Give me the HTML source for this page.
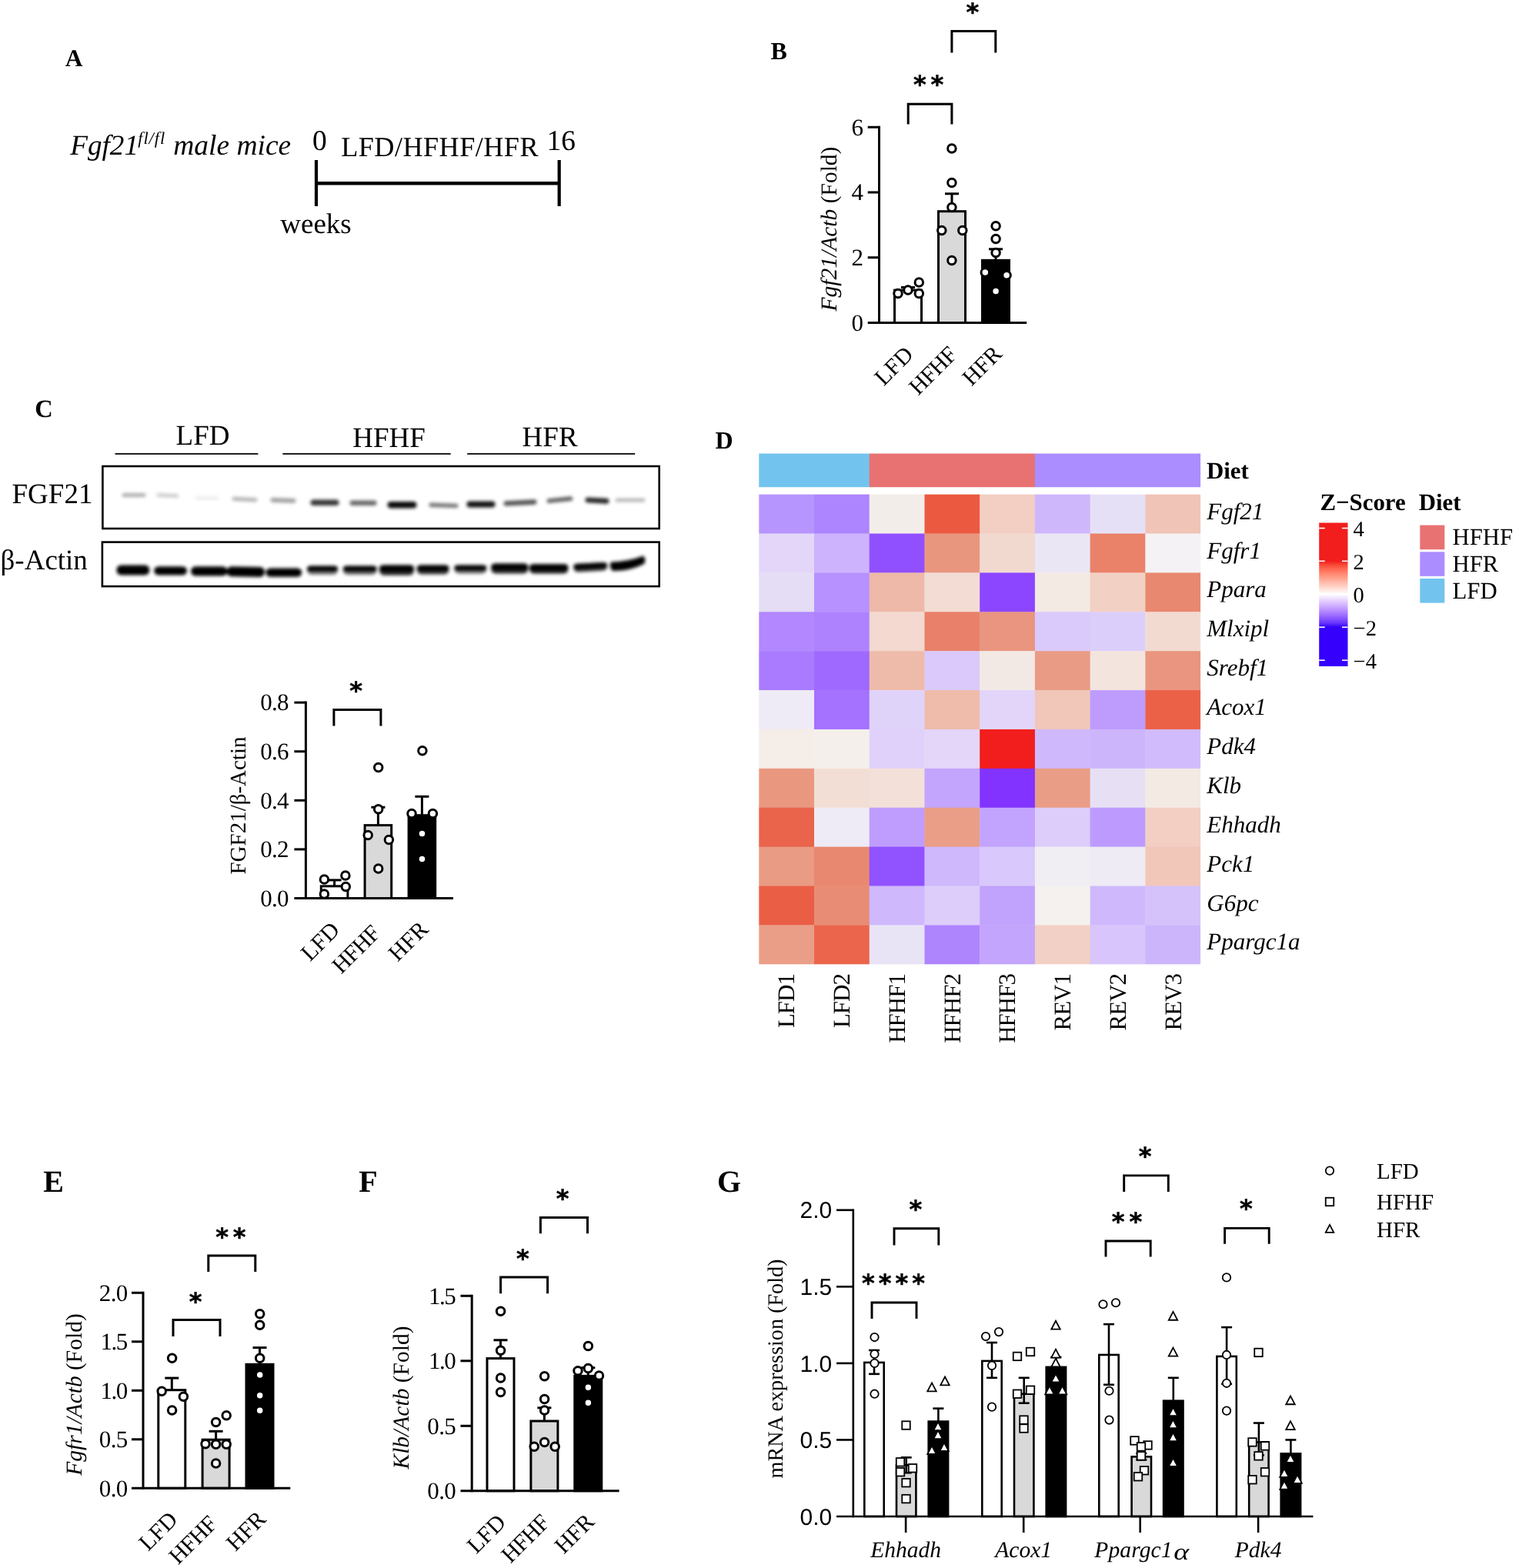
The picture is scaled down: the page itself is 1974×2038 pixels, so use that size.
<!DOCTYPE html>
<html lang="en">
<head>
<meta charset="utf-8">
<title>Figure: FGF21 signalling in LFD, HFHF and HFR fed mice</title>
<style>
html,body{margin:0;padding:0;background:#fff}
body{width:1974px;height:2038px;overflow:hidden}
svg{display:block;font-family:'Liberation Serif','Times New Roman',serif;fill:#000;text-rendering:geometricPrecision}
</style>
</head>
<body>
<svg width="1974" height="2038" viewBox="0 0 1974 2038">
<defs>
<filter id="b2" x="-30%" y="-300%" width="160%" height="700%"><feGaussianBlur stdDeviation="2.3"/></filter>
<filter id="b1" x="-30%" y="-200%" width="160%" height="500%"><feGaussianBlur stdDeviation="2"/></filter>
<linearGradient id="zs" x1="0" y1="0" x2="0" y2="1">
<stop offset="0.2670" stop-color="#f21d1d"/>
<stop offset="0.2958" stop-color="#fa4b38"/>
<stop offset="0.3245" stop-color="#ff6a53"/>
<stop offset="0.3533" stop-color="#ff856e"/>
<stop offset="0.3820" stop-color="#ff9f89"/>
<stop offset="0.4108" stop-color="#ffb7a6"/>
<stop offset="0.4395" stop-color="#ffcfc3"/>
<stop offset="0.4683" stop-color="#ffe7e1"/>
<stop offset="0.4971" stop-color="#ffffff"/>
<stop offset="0.5258" stop-color="#efe2ff"/>
<stop offset="0.5546" stop-color="#dec5ff"/>
<stop offset="0.5833" stop-color="#cba9ff"/>
<stop offset="0.6121" stop-color="#b78dff"/>
<stop offset="0.6408" stop-color="#a070ff"/>
<stop offset="0.6696" stop-color="#8753ff"/>
<stop offset="0.6983" stop-color="#6634fe"/>
<stop offset="0.7271" stop-color="#3500fc"/>
</linearGradient>
</defs>
<rect width="1974" height="2038" fill="#fff"/>
<text x="84.7" y="85.9" font-size="31.5" font-weight="bold">A</text>
<text x="1001.6" y="77.2" font-size="32" font-weight="bold">B</text>
<text x="45.3" y="542.1" font-size="32.5" font-weight="bold">C</text>
<text x="929.4" y="582.9" font-size="32" font-weight="bold">D</text>
<text x="56.3" y="1549.3" font-size="40" font-weight="bold">E</text>
<text x="466.3" y="1549.3" font-size="40" font-weight="bold">F</text>
<text x="932" y="1549.4" font-size="40" font-weight="bold">G</text>
<text x="91.2" y="200.6" font-size="37.2" font-style="italic">Fgf21<tspan x="179.3" font-size="22.5" dy="-13.4" letter-spacing="0.9">fl/fl</tspan><tspan x="215.8" dy="13.4" font-size="37.5"> male mice</tspan></text>
<text x="415.3" y="195.2" font-size="37.5" text-anchor="middle">0</text>
<text x="729.2" y="194.8" font-size="37.5" text-anchor="middle">16</text>
<text x="571.6" y="202.8" font-size="36.2" text-anchor="middle" letter-spacing="0.45">LFD/HFHF/HFR</text>
<text x="410.5" y="303.2" font-size="37" text-anchor="middle">weeks</text>
<line x1="411" y1="208" x2="411" y2="268" stroke="#000" stroke-width="4.2"/>
<line x1="726.7" y1="208" x2="726.7" y2="268" stroke="#000" stroke-width="4.2"/>
<line x1="411" y1="238.2" x2="726.7" y2="238.2" stroke="#000" stroke-width="4.4"/>
<rect x="1162.5" y="377.1" width="35" height="42.4" fill="#fff" stroke="#000" stroke-width="3"/>
<rect x="1219.5" y="274.7" width="35" height="144.8" fill="#d9d9d9" stroke="#000" stroke-width="3"/>
<rect x="1276.5" y="338.3" width="35" height="81.2" fill="#000" stroke="#000" stroke-width="3"/>
<line x1="1180" y1="373.5" x2="1180" y2="377.1" stroke="#000" stroke-width="3"/>
<line x1="1171" y1="373.5" x2="1189" y2="373.5" stroke="#000" stroke-width="3"/>
<line x1="1237" y1="251.8" x2="1237" y2="274.7" stroke="#000" stroke-width="3"/>
<line x1="1228" y1="251.8" x2="1246" y2="251.8" stroke="#000" stroke-width="3"/>
<line x1="1294" y1="323.8" x2="1294" y2="338.3" stroke="#000" stroke-width="3"/>
<line x1="1285" y1="323.8" x2="1303" y2="323.8" stroke="#000" stroke-width="3"/>
<line x1="1142.5" y1="163.8" x2="1142.5" y2="421" stroke="#000" stroke-width="3"/>
<line x1="1127.7" y1="419.5" x2="1334.2" y2="419.5" stroke="#000" stroke-width="3"/>
<line x1="1127.7" y1="165.3" x2="1142.5" y2="165.3" stroke="#000" stroke-width="3"/>
<text x="1121.9" y="175.69" font-size="31" text-anchor="end">6</text>
<line x1="1127.7" y1="250" x2="1142.5" y2="250" stroke="#000" stroke-width="3"/>
<text x="1121.9" y="260.38" font-size="31" text-anchor="end">4</text>
<line x1="1127.7" y1="334.7" x2="1142.5" y2="334.7" stroke="#000" stroke-width="3"/>
<text x="1121.9" y="345.08" font-size="31" text-anchor="end">2</text>
<text x="1121.9" y="429.88" font-size="31" text-anchor="end">0</text>
<circle cx="1167" cy="381.6" r="5.25" fill="#fff" stroke="#000" stroke-width="3"/>
<circle cx="1180" cy="376.9" r="5.25" fill="#fff" stroke="#000" stroke-width="3"/>
<circle cx="1194.3" cy="367.1" r="5.25" fill="#fff" stroke="#000" stroke-width="3"/>
<circle cx="1194.3" cy="381.6" r="5.25" fill="#fff" stroke="#000" stroke-width="3"/>
<circle cx="1236.9" cy="193.1" r="5.25" fill="#fff" stroke="#000" stroke-width="3"/>
<circle cx="1236.9" cy="237.5" r="5.25" fill="#fff" stroke="#000" stroke-width="3"/>
<circle cx="1236.9" cy="269.5" r="5.25" fill="#fff" stroke="#000" stroke-width="3"/>
<circle cx="1223.8" cy="299.5" r="5.25" fill="#fff" stroke="#000" stroke-width="3"/>
<circle cx="1250.8" cy="299.5" r="5.25" fill="#fff" stroke="#000" stroke-width="3"/>
<circle cx="1236.9" cy="338.6" r="5.25" fill="#fff" stroke="#000" stroke-width="3"/>
<circle cx="1294.1" cy="293.8" r="5.25" fill="#fff" stroke="#000" stroke-width="3"/>
<circle cx="1294.1" cy="310.6" r="5.25" fill="#fff" stroke="#000" stroke-width="3"/>
<circle cx="1294.1" cy="328.5" r="5.25" fill="#fff" stroke="#000" stroke-width="3"/>
<circle cx="1280.3" cy="354.1" r="5.25" fill="#fff" stroke="#000" stroke-width="3"/>
<circle cx="1308.1" cy="357.8" r="5.25" fill="#fff" stroke="#000" stroke-width="3"/>
<circle cx="1294.1" cy="378.6" r="5.25" fill="#fff" stroke="#000" stroke-width="3"/>
<text transform="translate(1188.5 462.5) rotate(-45)" font-size="30" text-anchor="end">LFD</text>
<text transform="translate(1244.9 463.1) rotate(-45)" font-size="30" text-anchor="end" letter-spacing="-0.9">HFHF</text>
<text transform="translate(1303.7 461.5) rotate(-45)" font-size="30" text-anchor="end">HFR</text>
<text transform="translate(1086.5 297.5) rotate(-90)" font-size="29.5" text-anchor="middle"><tspan font-style="italic">Fgf21/Actb</tspan> (Fold)</text>
<path d="M1236.9 68.5V40.6H1293.8V68.5" fill="none" stroke="#000" stroke-width="3"/>
<text x="1263.9" y="27.2" font-size="32" text-anchor="middle" font-weight="bold" font-family="'DejaVu Sans','Liberation Sans',sans-serif" stroke="#000" stroke-width="0.5">*</text>
<path d="M1180.2 161.6V135.2H1236.9V161.6" fill="none" stroke="#000" stroke-width="3"/>
<text x="1209.6" y="121.2" font-size="32" text-anchor="middle" font-weight="bold" font-family="'DejaVu Sans','Liberation Sans',sans-serif" letter-spacing="5.8" stroke="#000" stroke-width="0.5">**</text>
<text x="263.5" y="578.2" font-size="37" text-anchor="middle">LFD</text>
<text x="505.6" y="580.6" font-size="37" text-anchor="middle">HFHF</text>
<text x="714.6" y="580.4" font-size="37" text-anchor="middle">HFR</text>
<line x1="149.5" y1="589.9" x2="335.4" y2="589.9" stroke="#000" stroke-width="1.7"/>
<line x1="367.4" y1="589.9" x2="585.7" y2="589.9" stroke="#000" stroke-width="1.7"/>
<line x1="607.2" y1="589.9" x2="825.2" y2="589.9" stroke="#000" stroke-width="1.7"/>
<text x="68" y="654.2" font-size="37" text-anchor="middle">FGF21</text>
<text x="57.2" y="739.8" font-size="37" text-anchor="middle">β-Actin</text>
<rect x="133.4" y="606" width="723.3" height="81" fill="#fff" stroke="#000" stroke-width="2.6"/>
<rect x="132.9" y="704.6" width="723.8" height="57.5" fill="#fff" stroke="#000" stroke-width="2.6"/>
<g filter="url(#b2)">
<rect x="158.5" y="641.1" width="31" height="5" rx="2.5" fill="#000" opacity="0.32" transform="rotate(0 174 643.6)"/>
<rect x="203.5" y="641.8" width="29" height="4.4" rx="2.2" fill="#000" opacity="0.21" transform="rotate(2 218 644)"/>
<rect x="253.5" y="645.4" width="31" height="3.6" rx="1.8" fill="#000" opacity="0.09" transform="rotate(0 269 647.2)"/>
<rect x="301.5" y="646.5" width="33" height="5" rx="2.5" fill="#000" opacity="0.3" transform="rotate(3 318 649)"/>
<rect x="351.5" y="647.6" width="33" height="5.6" rx="2.8" fill="#000" opacity="0.38" transform="rotate(2 368 650.4)"/>
<rect x="403.5" y="649.4" width="37" height="7.6" rx="3.8" fill="#000" opacity="0.8" transform="rotate(0 422 653.2)"/>
<rect x="454.5" y="650.5" width="35" height="6.6" rx="3.3" fill="#000" opacity="0.6" transform="rotate(0 472 653.8)"/>
<rect x="503.5" y="652" width="38" height="8.4" rx="4.2" fill="#000" opacity="0.97" transform="rotate(0 522.5 656.2)"/>
<rect x="557.5" y="654.1" width="38" height="5.4" rx="2.7" fill="#000" opacity="0.55" transform="rotate(2 576.5 656.8)"/>
<rect x="606.5" y="651.4" width="37" height="8" rx="4" fill="#000" opacity="0.93" transform="rotate(0 625 655.4)"/>
<rect x="654.5" y="650.2" width="43" height="6.4" rx="3.2" fill="#000" opacity="0.68" transform="rotate(-3 676 653.4)"/>
<rect x="710.5" y="646.8" width="34" height="5.6" rx="2.8" fill="#000" opacity="0.62" transform="rotate(-6 727.5 649.6)"/>
<rect x="760.5" y="647.2" width="31" height="6.8" rx="3.4" fill="#000" opacity="0.85" transform="rotate(3 776 650.6)"/>
<rect x="799.5" y="647.8" width="39" height="4.4" rx="2.2" fill="#000" opacity="0.3" transform="rotate(0 819 650)"/>
</g>
<g filter="url(#b1)">
<rect x="151.5" y="734.4" width="42.8" height="13.2" rx="6" fill="#000" transform="rotate(0 172.9 741)"/>
<rect x="200.2" y="736.2" width="42.8" height="11.4" rx="6" fill="#000" transform="rotate(0 221.6 741.9)"/>
<rect x="248" y="736.2" width="47.5" height="12.3" rx="6" fill="#000" transform="rotate(0 271.75 742.35)"/>
<rect x="294.7" y="736.6" width="49.3" height="13" rx="6" fill="#000" transform="rotate(1 319.35 743.1)"/>
<rect x="345.4" y="738.4" width="46.8" height="11.4" rx="6" fill="#000" transform="rotate(0 368.8 744.1)"/>
<rect x="399" y="735.4" width="40" height="11.6" rx="6" fill="#000" opacity="0.55" transform="rotate(0 419 741.2)"/>
<rect x="399" y="735.4" width="40" height="7.19" rx="4.5" fill="#000" transform="rotate(0 419 741.2)"/>
<rect x="445.8" y="735.4" width="43.8" height="11.6" rx="6" fill="#000" opacity="0.6" transform="rotate(0 467.7 741.2)"/>
<rect x="445.8" y="735.4" width="43.8" height="7.19" rx="4.5" fill="#000" transform="rotate(0 467.7 741.2)"/>
<rect x="493" y="734.4" width="45" height="13.4" rx="6" fill="#000" opacity="0.85" transform="rotate(0 515.5 741.1)"/>
<rect x="493" y="734.4" width="45" height="8.31" rx="4.5" fill="#000" transform="rotate(0 515.5 741.1)"/>
<rect x="541.7" y="734.4" width="41.8" height="12.2" rx="6" fill="#000" opacity="0.8" transform="rotate(0 562.6 740.5)"/>
<rect x="541.7" y="734.4" width="41.8" height="7.56" rx="4.5" fill="#000" transform="rotate(0 562.6 740.5)"/>
<rect x="590.4" y="734.4" width="41.9" height="11" rx="6" fill="#000" opacity="0.6" transform="rotate(0 611.35 739.9)"/>
<rect x="590.4" y="734.4" width="41.9" height="6.82" rx="4.5" fill="#000" transform="rotate(0 611.35 739.9)"/>
<rect x="638.2" y="732.6" width="48.2" height="13" rx="6" fill="#000" opacity="0.85" transform="rotate(0 662.3 739.1)"/>
<rect x="638.2" y="732.6" width="48.2" height="8.06" rx="4.5" fill="#000" transform="rotate(0 662.3 739.1)"/>
<rect x="687.9" y="733.3" width="50.6" height="12.3" rx="6" fill="#000" opacity="0.9" transform="rotate(0 713.2 739.45)"/>
<rect x="687.9" y="733.3" width="50.6" height="7.63" rx="4.5" fill="#000" transform="rotate(0 713.2 739.45)"/>
<rect x="745.4" y="731.8" width="43.8" height="10.9" rx="6" fill="#000" opacity="0.8" transform="rotate(-3 767.3 737.25)"/>
<rect x="745.4" y="731.8" width="43.8" height="6.76" rx="4.5" fill="#000" transform="rotate(-3 767.3 737.25)"/>
<path d="M794 730.5 Q816 730 836 722.5 Q840.5 727 837 733 Q818 742.5 796 742 Q790.5 736 794 730.5Z" fill="#000"/>
</g>
<rect x="417.3" y="1151.8" width="34.6" height="15.7" fill="#fff" stroke="#000" stroke-width="3"/>
<rect x="474.1" y="1072.6" width="34.6" height="94.9" fill="#d9d9d9" stroke="#000" stroke-width="3"/>
<rect x="531.1" y="1059.7" width="34.6" height="107.8" fill="#000" stroke="#000" stroke-width="3"/>
<line x1="434.6" y1="1143.9" x2="434.6" y2="1151.8" stroke="#000" stroke-width="3"/>
<line x1="425.6" y1="1143.9" x2="443.6" y2="1143.9" stroke="#000" stroke-width="3"/>
<line x1="491.4" y1="1049.2" x2="491.4" y2="1072.6" stroke="#000" stroke-width="3"/>
<line x1="482.4" y1="1049.2" x2="500.4" y2="1049.2" stroke="#000" stroke-width="3"/>
<line x1="548.4" y1="1035.3" x2="548.4" y2="1059.7" stroke="#000" stroke-width="3"/>
<line x1="539.4" y1="1035.3" x2="557.4" y2="1035.3" stroke="#000" stroke-width="3"/>
<line x1="397.4" y1="911.6" x2="397.4" y2="1169" stroke="#000" stroke-width="3"/>
<line x1="382.4" y1="1167.5" x2="589" y2="1167.5" stroke="#000" stroke-width="3"/>
<line x1="382.4" y1="913.1" x2="397.4" y2="913.1" stroke="#000" stroke-width="3"/>
<text x="374.8" y="923.49" font-size="31" text-anchor="end" letter-spacing="-0.7">0.8</text>
<line x1="382.4" y1="976.7" x2="397.4" y2="976.7" stroke="#000" stroke-width="3"/>
<text x="374.8" y="987.09" font-size="31" text-anchor="end" letter-spacing="-0.7">0.6</text>
<line x1="382.4" y1="1040.3" x2="397.4" y2="1040.3" stroke="#000" stroke-width="3"/>
<text x="374.8" y="1050.68" font-size="31" text-anchor="end" letter-spacing="-0.7">0.4</text>
<line x1="382.4" y1="1103.9" x2="397.4" y2="1103.9" stroke="#000" stroke-width="3"/>
<text x="374.8" y="1114.29" font-size="31" text-anchor="end" letter-spacing="-0.7">0.2</text>
<text x="374.8" y="1177.88" font-size="31" text-anchor="end" letter-spacing="-0.7">0.0</text>
<circle cx="421.4" cy="1142.9" r="5.25" fill="#fff" stroke="#000" stroke-width="3"/>
<circle cx="448.9" cy="1138.1" r="5.25" fill="#fff" stroke="#000" stroke-width="3"/>
<circle cx="449.3" cy="1152.5" r="5.25" fill="#fff" stroke="#000" stroke-width="3"/>
<circle cx="421.4" cy="1162.1" r="5.25" fill="#fff" stroke="#000" stroke-width="3"/>
<circle cx="491.7" cy="997.6" r="5.25" fill="#fff" stroke="#000" stroke-width="3"/>
<circle cx="491.7" cy="1051.8" r="5.25" fill="#fff" stroke="#000" stroke-width="3"/>
<circle cx="478.2" cy="1085.4" r="5.25" fill="#fff" stroke="#000" stroke-width="3"/>
<circle cx="505.4" cy="1091.4" r="5.25" fill="#fff" stroke="#000" stroke-width="3"/>
<circle cx="491.7" cy="1128.9" r="5.25" fill="#fff" stroke="#000" stroke-width="3"/>
<circle cx="548.9" cy="975.7" r="5.25" fill="#fff" stroke="#000" stroke-width="3"/>
<circle cx="535" cy="1057.6" r="5.25" fill="#fff" stroke="#000" stroke-width="3"/>
<circle cx="562.4" cy="1057.6" r="5.25" fill="#fff" stroke="#000" stroke-width="3"/>
<circle cx="548.5" cy="1083.5" r="5.25" fill="#fff" stroke="#000" stroke-width="3"/>
<circle cx="548.5" cy="1116.5" r="5.25" fill="#fff" stroke="#000" stroke-width="3"/>
<text transform="translate(443.1 1210.5) rotate(-45)" font-size="30" text-anchor="end">LFD</text>
<text transform="translate(495.3 1215.1) rotate(-45)" font-size="30" text-anchor="end" letter-spacing="-0.9">HFHF</text>
<text transform="translate(558.1 1209.5) rotate(-45)" font-size="30" text-anchor="end">HFR</text>
<text transform="translate(319 1047) rotate(-90)" font-size="29" text-anchor="middle">FGF21/β-Actin</text>
<path d="M433.9 943.6V922.6H494.9V943.6" fill="none" stroke="#000" stroke-width="3"/>
<text x="462.7" y="908.9" font-size="32" text-anchor="middle" font-weight="bold" font-family="'DejaVu Sans','Liberation Sans',sans-serif" stroke="#000" stroke-width="0.5">*</text>
<rect x="205.8" y="1806.7" width="35" height="127.6" fill="#fff" stroke="#000" stroke-width="3"/>
<rect x="263.1" y="1871.2" width="35" height="63.1" fill="#d9d9d9" stroke="#000" stroke-width="3"/>
<rect x="320" y="1773.3" width="35" height="161" fill="#000" stroke="#000" stroke-width="3"/>
<line x1="223.3" y1="1791.1" x2="223.3" y2="1806.7" stroke="#000" stroke-width="3"/>
<line x1="214.3" y1="1791.1" x2="232.3" y2="1791.1" stroke="#000" stroke-width="3"/>
<line x1="280.6" y1="1860.3" x2="280.6" y2="1871.2" stroke="#000" stroke-width="3"/>
<line x1="271.6" y1="1860.3" x2="289.6" y2="1860.3" stroke="#000" stroke-width="3"/>
<line x1="337.5" y1="1751.6" x2="337.5" y2="1773.3" stroke="#000" stroke-width="3"/>
<line x1="328.5" y1="1751.6" x2="346.5" y2="1751.6" stroke="#000" stroke-width="3"/>
<line x1="186" y1="1678.8" x2="186" y2="1935.8" stroke="#000" stroke-width="3"/>
<line x1="171" y1="1934.3" x2="377.3" y2="1934.3" stroke="#000" stroke-width="3"/>
<line x1="171" y1="1680.3" x2="186" y2="1680.3" stroke="#000" stroke-width="3"/>
<text x="165.5" y="1690.68" font-size="31" text-anchor="end" letter-spacing="-0.7">2.0</text>
<line x1="171" y1="1743.8" x2="186" y2="1743.8" stroke="#000" stroke-width="3"/>
<text x="164.7" y="1754.18" font-size="31" text-anchor="end" letter-spacing="-1.5">1.5</text>
<line x1="171" y1="1807.3" x2="186" y2="1807.3" stroke="#000" stroke-width="3"/>
<text x="164.7" y="1817.68" font-size="31" text-anchor="end" letter-spacing="-1.5">1.0</text>
<line x1="171" y1="1870.8" x2="186" y2="1870.8" stroke="#000" stroke-width="3"/>
<text x="165.5" y="1881.18" font-size="31" text-anchor="end" letter-spacing="-0.7">0.5</text>
<text x="165.5" y="1944.68" font-size="31" text-anchor="end" letter-spacing="-0.7">0.0</text>
<circle cx="223.6" cy="1765.3" r="5.25" fill="#fff" stroke="#000" stroke-width="3"/>
<circle cx="210.2" cy="1808.2" r="5.25" fill="#fff" stroke="#000" stroke-width="3"/>
<circle cx="238.4" cy="1815.3" r="5.25" fill="#fff" stroke="#000" stroke-width="3"/>
<circle cx="223.6" cy="1832.9" r="5.25" fill="#fff" stroke="#000" stroke-width="3"/>
<circle cx="294.2" cy="1839.7" r="5.25" fill="#fff" stroke="#000" stroke-width="3"/>
<circle cx="280.6" cy="1848.6" r="5.25" fill="#fff" stroke="#000" stroke-width="3"/>
<circle cx="267" cy="1876.8" r="5.25" fill="#fff" stroke="#000" stroke-width="3"/>
<circle cx="280.6" cy="1877.2" r="5.25" fill="#fff" stroke="#000" stroke-width="3"/>
<circle cx="294.2" cy="1877.2" r="5.25" fill="#fff" stroke="#000" stroke-width="3"/>
<circle cx="280.6" cy="1901.9" r="5.25" fill="#fff" stroke="#000" stroke-width="3"/>
<circle cx="337.7" cy="1707.7" r="5.25" fill="#fff" stroke="#000" stroke-width="3"/>
<circle cx="337.7" cy="1722.3" r="5.25" fill="#fff" stroke="#000" stroke-width="3"/>
<circle cx="337.7" cy="1765.3" r="5.25" fill="#fff" stroke="#000" stroke-width="3"/>
<circle cx="337.7" cy="1786.9" r="5.25" fill="#fff" stroke="#000" stroke-width="3"/>
<circle cx="337.7" cy="1813.8" r="5.25" fill="#fff" stroke="#000" stroke-width="3"/>
<circle cx="337.7" cy="1833.3" r="5.25" fill="#fff" stroke="#000" stroke-width="3"/>
<text transform="translate(232.6 1977) rotate(-45)" font-size="30" text-anchor="end">LFD</text>
<text transform="translate(283.3 1982.8) rotate(-45)" font-size="30" text-anchor="end" letter-spacing="-0.9">HFHF</text>
<text transform="translate(347.2 1976) rotate(-45)" font-size="30" text-anchor="end">HFR</text>
<text transform="translate(105.5 1812.5) rotate(-90)" font-size="29.5" text-anchor="middle"><tspan font-style="italic">Fgfr1/Actb</tspan> (Fold)</text>
<path d="M225 1737.1V1715.5H286V1737.1" fill="none" stroke="#000" stroke-width="3"/>
<text x="254.1" y="1703.2" font-size="32" text-anchor="middle" font-weight="bold" font-family="'DejaVu Sans','Liberation Sans',sans-serif" stroke="#000" stroke-width="0.5">*</text>
<path d="M270.8 1653.1V1631.9H331.8V1653.1" fill="none" stroke="#000" stroke-width="3"/>
<text x="302.8" y="1619.2" font-size="32" text-anchor="middle" font-weight="bold" font-family="'DejaVu Sans','Liberation Sans',sans-serif" letter-spacing="5.8" stroke="#000" stroke-width="0.5">**</text>
<rect x="633" y="1765.6" width="35" height="172.2" fill="#fff" stroke="#000" stroke-width="3"/>
<rect x="689.9" y="1847" width="35" height="90.8" fill="#d9d9d9" stroke="#000" stroke-width="3"/>
<rect x="746.8" y="1788.4" width="35" height="149.4" fill="#000" stroke="#000" stroke-width="3"/>
<line x1="650.5" y1="1741.8" x2="650.5" y2="1765.6" stroke="#000" stroke-width="3"/>
<line x1="641.5" y1="1741.8" x2="659.5" y2="1741.8" stroke="#000" stroke-width="3"/>
<line x1="707.4" y1="1829.8" x2="707.4" y2="1847" stroke="#000" stroke-width="3"/>
<line x1="698.4" y1="1829.8" x2="716.4" y2="1829.8" stroke="#000" stroke-width="3"/>
<line x1="764.3" y1="1777.7" x2="764.3" y2="1788.4" stroke="#000" stroke-width="3"/>
<line x1="755.3" y1="1777.7" x2="773.3" y2="1777.7" stroke="#000" stroke-width="3"/>
<line x1="613.2" y1="1682.8" x2="613.2" y2="1939.3" stroke="#000" stroke-width="3"/>
<line x1="598.5" y1="1937.8" x2="804.6" y2="1937.8" stroke="#000" stroke-width="3"/>
<line x1="598.5" y1="1684.3" x2="613.2" y2="1684.3" stroke="#000" stroke-width="3"/>
<text x="591.2" y="1694.68" font-size="31" text-anchor="end" letter-spacing="-1.5">1.5</text>
<line x1="598.5" y1="1768.8" x2="613.2" y2="1768.8" stroke="#000" stroke-width="3"/>
<text x="591.2" y="1779.18" font-size="31" text-anchor="end" letter-spacing="-1.5">1.0</text>
<line x1="598.5" y1="1853.3" x2="613.2" y2="1853.3" stroke="#000" stroke-width="3"/>
<text x="592" y="1863.68" font-size="31" text-anchor="end" letter-spacing="-0.7">0.5</text>
<text x="592" y="1948.18" font-size="31" text-anchor="end" letter-spacing="-0.7">0.0</text>
<circle cx="650.6" cy="1704.2" r="5.25" fill="#fff" stroke="#000" stroke-width="3"/>
<circle cx="650.6" cy="1755.2" r="5.25" fill="#fff" stroke="#000" stroke-width="3"/>
<circle cx="650.6" cy="1791.1" r="5.25" fill="#fff" stroke="#000" stroke-width="3"/>
<circle cx="650.6" cy="1809.4" r="5.25" fill="#fff" stroke="#000" stroke-width="3"/>
<circle cx="707.6" cy="1788.7" r="5.25" fill="#fff" stroke="#000" stroke-width="3"/>
<circle cx="707.6" cy="1818.5" r="5.25" fill="#fff" stroke="#000" stroke-width="3"/>
<circle cx="707.6" cy="1832.9" r="5.25" fill="#fff" stroke="#000" stroke-width="3"/>
<circle cx="694.2" cy="1880.3" r="5.25" fill="#fff" stroke="#000" stroke-width="3"/>
<circle cx="707.6" cy="1874.4" r="5.25" fill="#fff" stroke="#000" stroke-width="3"/>
<circle cx="721.2" cy="1880.3" r="5.25" fill="#fff" stroke="#000" stroke-width="3"/>
<circle cx="764.4" cy="1749.5" r="5.25" fill="#fff" stroke="#000" stroke-width="3"/>
<circle cx="764.4" cy="1778.6" r="5.25" fill="#fff" stroke="#000" stroke-width="3"/>
<circle cx="751" cy="1781.7" r="5.25" fill="#fff" stroke="#000" stroke-width="3"/>
<circle cx="778.5" cy="1788" r="5.25" fill="#fff" stroke="#000" stroke-width="3"/>
<circle cx="764.4" cy="1803.3" r="5.25" fill="#fff" stroke="#000" stroke-width="3"/>
<circle cx="764.4" cy="1823.2" r="5.25" fill="#fff" stroke="#000" stroke-width="3"/>
<text transform="translate(659 1980.5) rotate(-45)" font-size="30" text-anchor="end">LFD</text>
<text transform="translate(715.3 1981.1) rotate(-45)" font-size="30" text-anchor="end" letter-spacing="-0.9">HFHF</text>
<text transform="translate(774 1979.5) rotate(-45)" font-size="30" text-anchor="end">HFR</text>
<text transform="translate(531 1816.5) rotate(-90)" font-size="29.5" text-anchor="middle"><tspan font-style="italic">Klb/Actb</tspan> (Fold)</text>
<path d="M650.6 1681.2V1660.1H711.6V1681.2" fill="none" stroke="#000" stroke-width="3"/>
<text x="679.4" y="1646.9" font-size="32" text-anchor="middle" font-weight="bold" font-family="'DejaVu Sans','Liberation Sans',sans-serif" stroke="#000" stroke-width="0.5">*</text>
<path d="M702.4 1603.3V1582.6H763.5V1603.3" fill="none" stroke="#000" stroke-width="3"/>
<text x="731.1" y="1569.4" font-size="32" text-anchor="middle" font-weight="bold" font-family="'DejaVu Sans','Liberation Sans',sans-serif" stroke="#000" stroke-width="0.5">*</text>
<g>
<rect x="986.3" y="589.5" width="143.75" height="43.7" fill="#72c4ee"/>
<rect x="1129.75" y="589.5" width="215.47" height="43.7" fill="#e87272"/>
<rect x="1344.92" y="589.5" width="215.17" height="43.7" fill="#ab8dff"/>
<rect x="986.3" y="642.6" width="72.12" height="51.29" fill="#b795ff"/>
<rect x="1058.02" y="642.6" width="72.12" height="51.29" fill="#ad85ff"/>
<rect x="1129.75" y="642.6" width="72.12" height="51.29" fill="#f3edea"/>
<rect x="1201.47" y="642.6" width="72.12" height="51.29" fill="#eb5940"/>
<rect x="1273.2" y="642.6" width="72.12" height="51.29" fill="#f2cec3"/>
<rect x="1344.92" y="642.6" width="72.12" height="51.29" fill="#cfb7fc"/>
<rect x="1416.65" y="642.6" width="72.12" height="51.29" fill="#e6e0f6"/>
<rect x="1488.38" y="642.6" width="71.72" height="51.29" fill="#f0c4b6"/>
<rect x="986.3" y="693.49" width="72.12" height="51.29" fill="#e3d6f9"/>
<rect x="1058.02" y="693.49" width="72.12" height="51.29" fill="#cdb2fe"/>
<rect x="1129.75" y="693.49" width="72.12" height="51.29" fill="#9050ff"/>
<rect x="1201.47" y="693.49" width="72.12" height="51.29" fill="#e9967f"/>
<rect x="1273.2" y="693.49" width="72.12" height="51.29" fill="#f2d9d0"/>
<rect x="1344.92" y="693.49" width="72.12" height="51.29" fill="#ebe6f4"/>
<rect x="1416.65" y="693.49" width="72.12" height="51.29" fill="#e98268"/>
<rect x="1488.38" y="693.49" width="71.72" height="51.29" fill="#f4f2f4"/>
<rect x="986.3" y="744.38" width="72.12" height="51.29" fill="#e5ddf5"/>
<rect x="1058.02" y="744.38" width="72.12" height="51.29" fill="#b791ff"/>
<rect x="1129.75" y="744.38" width="72.12" height="51.29" fill="#eeb9a8"/>
<rect x="1201.47" y="744.38" width="72.12" height="51.29" fill="#f3dcd3"/>
<rect x="1273.2" y="744.38" width="72.12" height="51.29" fill="#8c46ff"/>
<rect x="1344.92" y="744.38" width="72.12" height="51.29" fill="#f4eae4"/>
<rect x="1416.65" y="744.38" width="72.12" height="51.29" fill="#f2d0c4"/>
<rect x="1488.38" y="744.38" width="71.72" height="51.29" fill="#e98870"/>
<rect x="986.3" y="795.27" width="72.12" height="51.29" fill="#b287ff"/>
<rect x="1058.02" y="795.27" width="72.12" height="51.29" fill="#ae82ff"/>
<rect x="1129.75" y="795.27" width="72.12" height="51.29" fill="#f3d9d0"/>
<rect x="1201.47" y="795.27" width="72.12" height="51.29" fill="#e9806a"/>
<rect x="1273.2" y="795.27" width="72.12" height="51.29" fill="#e9957f"/>
<rect x="1344.92" y="795.27" width="72.12" height="51.29" fill="#dac9fb"/>
<rect x="1416.65" y="795.27" width="72.12" height="51.29" fill="#dccefa"/>
<rect x="1488.38" y="795.27" width="71.72" height="51.29" fill="#f3dad1"/>
<rect x="986.3" y="846.17" width="72.12" height="51.29" fill="#aa7bff"/>
<rect x="1058.02" y="846.17" width="72.12" height="51.29" fill="#9f69ff"/>
<rect x="1129.75" y="846.17" width="72.12" height="51.29" fill="#eebbaa"/>
<rect x="1201.47" y="846.17" width="72.12" height="51.29" fill="#dac9fa"/>
<rect x="1273.2" y="846.17" width="72.12" height="51.29" fill="#f3e9e4"/>
<rect x="1344.92" y="846.17" width="72.12" height="51.29" fill="#ea9b85"/>
<rect x="1416.65" y="846.17" width="72.12" height="51.29" fill="#f3e4de"/>
<rect x="1488.38" y="846.17" width="71.72" height="51.29" fill="#e9957f"/>
<rect x="986.3" y="897.06" width="72.12" height="51.29" fill="#efebf6"/>
<rect x="1058.02" y="897.06" width="72.12" height="51.29" fill="#a571ff"/>
<rect x="1129.75" y="897.06" width="72.12" height="51.29" fill="#e0d3fa"/>
<rect x="1201.47" y="897.06" width="72.12" height="51.29" fill="#efbbab"/>
<rect x="1273.2" y="897.06" width="72.12" height="51.29" fill="#e2d5f9"/>
<rect x="1344.92" y="897.06" width="72.12" height="51.29" fill="#f1c7ba"/>
<rect x="1416.65" y="897.06" width="72.12" height="51.29" fill="#bd9cfe"/>
<rect x="1488.38" y="897.06" width="71.72" height="51.29" fill="#eb6148"/>
<rect x="986.3" y="947.95" width="72.12" height="51.29" fill="#f4ede8"/>
<rect x="1058.02" y="947.95" width="72.12" height="51.29" fill="#f4efea"/>
<rect x="1129.75" y="947.95" width="72.12" height="51.29" fill="#dfd1fa"/>
<rect x="1201.47" y="947.95" width="72.12" height="51.29" fill="#e3d6f9"/>
<rect x="1273.2" y="947.95" width="72.12" height="51.29" fill="#f21d1d"/>
<rect x="1344.92" y="947.95" width="72.12" height="51.29" fill="#cfb9fc"/>
<rect x="1416.65" y="947.95" width="72.12" height="51.29" fill="#cdb5fc"/>
<rect x="1488.38" y="947.95" width="71.72" height="51.29" fill="#d1bbfc"/>
<rect x="986.3" y="998.84" width="72.12" height="51.29" fill="#ea9780"/>
<rect x="1058.02" y="998.84" width="72.12" height="51.29" fill="#f3ded6"/>
<rect x="1129.75" y="998.84" width="72.12" height="51.29" fill="#f3e0d8"/>
<rect x="1201.47" y="998.84" width="72.12" height="51.29" fill="#c3a5fd"/>
<rect x="1273.2" y="998.84" width="72.12" height="51.29" fill="#8233ff"/>
<rect x="1344.92" y="998.84" width="72.12" height="51.29" fill="#ea9d86"/>
<rect x="1416.65" y="998.84" width="72.12" height="51.29" fill="#e7e0f5"/>
<rect x="1488.38" y="998.84" width="71.72" height="51.29" fill="#f3eae4"/>
<rect x="986.3" y="1049.73" width="72.12" height="51.29" fill="#ea634b"/>
<rect x="1058.02" y="1049.73" width="72.12" height="51.29" fill="#eeebf6"/>
<rect x="1129.75" y="1049.73" width="72.12" height="51.29" fill="#be9dfe"/>
<rect x="1201.47" y="1049.73" width="72.12" height="51.29" fill="#ea9e87"/>
<rect x="1273.2" y="1049.73" width="72.12" height="51.29" fill="#c2a3fd"/>
<rect x="1344.92" y="1049.73" width="72.12" height="51.29" fill="#dccdfa"/>
<rect x="1416.65" y="1049.73" width="72.12" height="51.29" fill="#bd9bfe"/>
<rect x="1488.38" y="1049.73" width="71.72" height="51.29" fill="#f3cec3"/>
<rect x="986.3" y="1100.62" width="72.12" height="51.29" fill="#ea9b84"/>
<rect x="1058.02" y="1100.62" width="72.12" height="51.29" fill="#e98870"/>
<rect x="1129.75" y="1100.62" width="72.12" height="51.29" fill="#9152ff"/>
<rect x="1201.47" y="1100.62" width="72.12" height="51.29" fill="#cfb8fc"/>
<rect x="1273.2" y="1100.62" width="72.12" height="51.29" fill="#d9c8fb"/>
<rect x="1344.92" y="1100.62" width="72.12" height="51.29" fill="#f1eef3"/>
<rect x="1416.65" y="1100.62" width="72.12" height="51.29" fill="#efebf5"/>
<rect x="1488.38" y="1100.62" width="71.72" height="51.29" fill="#f1c7b9"/>
<rect x="986.3" y="1151.52" width="72.12" height="51.29" fill="#eb5e46"/>
<rect x="1058.02" y="1151.52" width="72.12" height="51.29" fill="#e98c75"/>
<rect x="1129.75" y="1151.52" width="72.12" height="51.29" fill="#cfb8fc"/>
<rect x="1201.47" y="1151.52" width="72.12" height="51.29" fill="#dccdfa"/>
<rect x="1273.2" y="1151.52" width="72.12" height="51.29" fill="#c1a2fd"/>
<rect x="1344.92" y="1151.52" width="72.12" height="51.29" fill="#f4f1ee"/>
<rect x="1416.65" y="1151.52" width="72.12" height="51.29" fill="#cfb9fc"/>
<rect x="1488.38" y="1151.52" width="71.72" height="51.29" fill="#d5c2fb"/>
<rect x="986.3" y="1202.41" width="72.12" height="50.89" fill="#ea9d87"/>
<rect x="1058.02" y="1202.41" width="72.12" height="50.89" fill="#eb654d"/>
<rect x="1129.75" y="1202.41" width="72.12" height="50.89" fill="#e9e4f5"/>
<rect x="1201.47" y="1202.41" width="72.12" height="50.89" fill="#af85fe"/>
<rect x="1273.2" y="1202.41" width="72.12" height="50.89" fill="#c3a5fd"/>
<rect x="1344.92" y="1202.41" width="72.12" height="50.89" fill="#f3d0c5"/>
<rect x="1416.65" y="1202.41" width="72.12" height="50.89" fill="#d7c5fb"/>
<rect x="1488.38" y="1202.41" width="71.72" height="50.89" fill="#cdb5fc"/>
</g>
<text x="1567.9" y="621.8" font-size="30.9" font-weight="bold">Diet</text>
<text x="1568.3" y="674.65" font-size="31" font-style="italic">Fgf21</text>
<text x="1568.3" y="725.54" font-size="31" font-style="italic">Fgfr1</text>
<text x="1568.3" y="776.43" font-size="31" font-style="italic">Ppara</text>
<text x="1568.3" y="827.32" font-size="31" font-style="italic">Mlxipl</text>
<text x="1568.3" y="878.21" font-size="31" font-style="italic">Srebf1</text>
<text x="1568.3" y="929.1" font-size="31" font-style="italic">Acox1</text>
<text x="1568.3" y="980" font-size="31" font-style="italic">Pdk4</text>
<text x="1568.3" y="1030.89" font-size="31" font-style="italic">Klb</text>
<text x="1568.3" y="1081.78" font-size="31" font-style="italic">Ehhadh</text>
<text x="1568.3" y="1132.67" font-size="31" font-style="italic">Pck1</text>
<text x="1568.3" y="1183.56" font-size="31" font-style="italic">G6pc</text>
<text x="1568.3" y="1234.45" font-size="31" font-style="italic">Ppargc1a</text>
<text transform="translate(1032.46 1266) rotate(-90)" font-size="31" text-anchor="end" letter-spacing="-1">LFD1</text>
<text transform="translate(1104.19 1266) rotate(-90)" font-size="31" text-anchor="end" letter-spacing="-1">LFD2</text>
<text transform="translate(1175.91 1266) rotate(-90)" font-size="31" text-anchor="end" letter-spacing="-1">HFHF1</text>
<text transform="translate(1247.64 1266) rotate(-90)" font-size="31" text-anchor="end" letter-spacing="-1">HFHF2</text>
<text transform="translate(1319.36 1266) rotate(-90)" font-size="31" text-anchor="end" letter-spacing="-1">HFHF3</text>
<text transform="translate(1391.09 1266) rotate(-90)" font-size="31" text-anchor="end" letter-spacing="-1">REV1</text>
<text transform="translate(1462.81 1266) rotate(-90)" font-size="31" text-anchor="end" letter-spacing="-1">REV2</text>
<text transform="translate(1534.54 1266) rotate(-90)" font-size="31" text-anchor="end" letter-spacing="-1">REV3</text>
<text x="1715.5" y="663" font-size="30.8" font-weight="bold">Z−Score</text>
<text x="1843.8" y="663" font-size="30.8" font-weight="bold">Diet</text>
<rect x="1714.2" y="679.5" width="37.3" height="186.5" fill="url(#zs)"/>
<line x1="1714.2" y1="686.5" x2="1721.7" y2="686.5" stroke="#fff" stroke-width="1.6"/>
<line x1="1744" y1="686.5" x2="1751.5" y2="686.5" stroke="#fff" stroke-width="1.6"/>
<text x="1758.6" y="697.1" font-size="28.5">4</text>
<line x1="1714.2" y1="729.3" x2="1721.7" y2="729.3" stroke="#fff" stroke-width="1.6"/>
<line x1="1744" y1="729.3" x2="1751.5" y2="729.3" stroke="#fff" stroke-width="1.6"/>
<text x="1758.6" y="739.9" font-size="28.5">2</text>
<line x1="1714.2" y1="772.2" x2="1721.7" y2="772.2" stroke="#fff" stroke-width="1.6"/>
<line x1="1744" y1="772.2" x2="1751.5" y2="772.2" stroke="#fff" stroke-width="1.6"/>
<text x="1758.6" y="782.8" font-size="28.5">0</text>
<line x1="1714.2" y1="815.2" x2="1721.7" y2="815.2" stroke="#fff" stroke-width="1.6"/>
<line x1="1744" y1="815.2" x2="1751.5" y2="815.2" stroke="#fff" stroke-width="1.6"/>
<text x="1758.6" y="825.8" font-size="28.5">−2</text>
<line x1="1714.2" y1="858.2" x2="1721.7" y2="858.2" stroke="#fff" stroke-width="1.6"/>
<line x1="1744" y1="858.2" x2="1751.5" y2="858.2" stroke="#fff" stroke-width="1.6"/>
<text x="1758.6" y="868.8" font-size="28.5">−4</text>
<rect x="1845.3" y="682.6" width="32" height="31.6" fill="#e87272"/>
<text x="1887.5" y="708" font-size="30.8">HFHF</text>
<rect x="1845.3" y="717.3" width="32" height="31.6" fill="#ab8dff"/>
<text x="1887.5" y="743" font-size="30.8">HFR</text>
<rect x="1845.3" y="752" width="32" height="31.6" fill="#72c4ee"/>
<text x="1887.5" y="778" font-size="30.8">LFD</text>
<rect x="1123.3" y="1770.9" width="25.4" height="200.1" fill="#fff" stroke="#000" stroke-width="2.6"/>
<rect x="1165" y="1904.3" width="25.4" height="66.7" fill="#d9d9d9" stroke="#000" stroke-width="2.6"/>
<rect x="1206.7" y="1847.56" width="25.4" height="123.44" fill="#000" stroke="#000" stroke-width="2.6"/>
<line x1="1136" y1="1754.98" x2="1136" y2="1785.84" stroke="#000" stroke-width="2.6"/>
<line x1="1129" y1="1754.98" x2="1143" y2="1754.98" stroke="#000" stroke-width="2.6"/>
<line x1="1129" y1="1785.84" x2="1143" y2="1785.84" stroke="#000" stroke-width="2.6"/>
<line x1="1177.7" y1="1894.35" x2="1177.7" y2="1914.26" stroke="#000" stroke-width="2.6"/>
<line x1="1170.7" y1="1894.35" x2="1184.7" y2="1894.35" stroke="#000" stroke-width="2.6"/>
<line x1="1170.7" y1="1914.26" x2="1184.7" y2="1914.26" stroke="#000" stroke-width="2.6"/>
<line x1="1219.4" y1="1830.63" x2="1219.4" y2="1847.56" stroke="#000" stroke-width="2.6"/>
<line x1="1212.4" y1="1830.63" x2="1226.4" y2="1830.63" stroke="#000" stroke-width="2.6"/>
<rect x="1276.3" y="1768.91" width="25.4" height="202.09" fill="#fff" stroke="#000" stroke-width="2.6"/>
<rect x="1318" y="1811.72" width="25.4" height="159.28" fill="#d9d9d9" stroke="#000" stroke-width="2.6"/>
<rect x="1359.7" y="1776.88" width="25.4" height="194.12" fill="#000" stroke="#000" stroke-width="2.6"/>
<line x1="1289" y1="1745.02" x2="1289" y2="1790.81" stroke="#000" stroke-width="2.6"/>
<line x1="1282" y1="1745.02" x2="1296" y2="1745.02" stroke="#000" stroke-width="2.6"/>
<line x1="1282" y1="1790.81" x2="1296" y2="1790.81" stroke="#000" stroke-width="2.6"/>
<line x1="1330.7" y1="1790.81" x2="1330.7" y2="1823.67" stroke="#000" stroke-width="2.6"/>
<line x1="1323.7" y1="1790.81" x2="1337.7" y2="1790.81" stroke="#000" stroke-width="2.6"/>
<line x1="1323.7" y1="1823.67" x2="1337.7" y2="1823.67" stroke="#000" stroke-width="2.6"/>
<line x1="1372.4" y1="1763.94" x2="1372.4" y2="1776.88" stroke="#000" stroke-width="2.6"/>
<line x1="1365.4" y1="1763.94" x2="1379.4" y2="1763.94" stroke="#000" stroke-width="2.6"/>
<rect x="1428.3" y="1760.95" width="25.4" height="210.05" fill="#fff" stroke="#000" stroke-width="2.6"/>
<rect x="1470.6" y="1893.35" width="25.4" height="77.65" fill="#d9d9d9" stroke="#000" stroke-width="2.6"/>
<rect x="1512.1" y="1820.68" width="25.4" height="150.32" fill="#000" stroke="#000" stroke-width="2.6"/>
<line x1="1441" y1="1721.13" x2="1441" y2="1799.77" stroke="#000" stroke-width="2.6"/>
<line x1="1434" y1="1721.13" x2="1448" y2="1721.13" stroke="#000" stroke-width="2.6"/>
<line x1="1434" y1="1799.77" x2="1448" y2="1799.77" stroke="#000" stroke-width="2.6"/>
<line x1="1483.3" y1="1888.97" x2="1483.3" y2="1897.33" stroke="#000" stroke-width="2.6"/>
<line x1="1476.3" y1="1888.97" x2="1490.3" y2="1888.97" stroke="#000" stroke-width="2.6"/>
<line x1="1476.3" y1="1897.33" x2="1490.3" y2="1897.33" stroke="#000" stroke-width="2.6"/>
<line x1="1524.8" y1="1790.81" x2="1524.8" y2="1820.68" stroke="#000" stroke-width="2.6"/>
<line x1="1517.8" y1="1790.81" x2="1531.8" y2="1790.81" stroke="#000" stroke-width="2.6"/>
<rect x="1581.4" y="1762.94" width="25.4" height="208.06" fill="#fff" stroke="#000" stroke-width="2.6"/>
<rect x="1623.2" y="1874.44" width="25.4" height="96.56" fill="#d9d9d9" stroke="#000" stroke-width="2.6"/>
<rect x="1664.7" y="1889.37" width="25.4" height="81.63" fill="#000" stroke="#000" stroke-width="2.6"/>
<line x1="1594.1" y1="1725.11" x2="1594.1" y2="1798.78" stroke="#000" stroke-width="2.6"/>
<line x1="1587.1" y1="1725.11" x2="1601.1" y2="1725.11" stroke="#000" stroke-width="2.6"/>
<line x1="1587.1" y1="1798.78" x2="1601.1" y2="1798.78" stroke="#000" stroke-width="2.6"/>
<line x1="1635.9" y1="1849.55" x2="1635.9" y2="1891.36" stroke="#000" stroke-width="2.6"/>
<line x1="1628.9" y1="1849.55" x2="1642.9" y2="1849.55" stroke="#000" stroke-width="2.6"/>
<line x1="1628.9" y1="1891.36" x2="1642.9" y2="1891.36" stroke="#000" stroke-width="2.6"/>
<line x1="1677.4" y1="1871.45" x2="1677.4" y2="1889.37" stroke="#000" stroke-width="2.6"/>
<line x1="1670.4" y1="1871.45" x2="1684.4" y2="1871.45" stroke="#000" stroke-width="2.6"/>
<line x1="1108.8" y1="1571.5" x2="1108.8" y2="1972.3" stroke="#000" stroke-width="2.6"/>
<line x1="1087" y1="1971" x2="1706.4" y2="1971" stroke="#000" stroke-width="2.6"/>
<line x1="1087" y1="1572.8" x2="1108.8" y2="1572.8" stroke="#000" stroke-width="2.6"/>
<text x="1081.3" y="1583.4" font-size="30" text-anchor="end" font-family="'Liberation Sans',Arial,sans-serif">2.0</text>
<line x1="1087" y1="1672.35" x2="1108.8" y2="1672.35" stroke="#000" stroke-width="2.6"/>
<text x="1081.3" y="1682.95" font-size="30" text-anchor="end" font-family="'Liberation Sans',Arial,sans-serif">1.5</text>
<line x1="1087" y1="1771.9" x2="1108.8" y2="1771.9" stroke="#000" stroke-width="2.6"/>
<text x="1081.3" y="1782.5" font-size="30" text-anchor="end" font-family="'Liberation Sans',Arial,sans-serif">1.0</text>
<line x1="1087" y1="1871.45" x2="1108.8" y2="1871.45" stroke="#000" stroke-width="2.6"/>
<text x="1081.3" y="1882.05" font-size="30" text-anchor="end" font-family="'Liberation Sans',Arial,sans-serif">0.5</text>
<text x="1081.3" y="1981.6" font-size="30" text-anchor="end" font-family="'Liberation Sans',Arial,sans-serif">0.0</text>
<line x1="1177.1" y1="1971" x2="1177.1" y2="1992" stroke="#000" stroke-width="2.6"/>
<text x="1177.1" y="2024.2" font-size="29.5" text-anchor="middle" font-style="italic">Ehhadh</text>
<line x1="1330.2" y1="1971" x2="1330.2" y2="1992" stroke="#000" stroke-width="2.6"/>
<text x="1330.2" y="2024.2" font-size="29.5" text-anchor="middle" font-style="italic">Acox1</text>
<line x1="1481.7" y1="1971" x2="1481.7" y2="1992" stroke="#000" stroke-width="2.6"/>
<text x="1422.3" y="2024.2" font-size="29.5" font-style="italic" letter-spacing="0.12">Ppargc1</text>
<text transform="translate(1525.2 2027.3) scale(1.27 1)" font-size="30" font-style="italic">α</text>
<line x1="1635.1" y1="1971" x2="1635.1" y2="1992" stroke="#000" stroke-width="2.6"/>
<text x="1635.1" y="2024.2" font-size="29.5" text-anchor="middle" font-style="italic">Pdk4</text>
<text transform="translate(1017 1779) rotate(-90)" font-size="28.2" text-anchor="middle">mRNA expression (Fold)</text>
<circle cx="1136.5" cy="1738.05" r="5.2" fill="#fff" stroke="#000" stroke-width="1.8"/>
<circle cx="1136.5" cy="1759.95" r="5.2" fill="#fff" stroke="#000" stroke-width="1.8"/>
<circle cx="1136.5" cy="1771.9" r="5.2" fill="#fff" stroke="#000" stroke-width="1.8"/>
<circle cx="1136.5" cy="1811.72" r="5.2" fill="#fff" stroke="#000" stroke-width="1.8"/>
<rect x="1172.25" y="1847.29" width="10.5" height="10.5" fill="#fff" stroke="#000" stroke-width="1.8"/>
<rect x="1164.75" y="1895.07" width="10.5" height="10.5" fill="#fff" stroke="#000" stroke-width="1.8"/>
<rect x="1180.75" y="1903.03" width="10.5" height="10.5" fill="#fff" stroke="#000" stroke-width="1.8"/>
<rect x="1164.75" y="1908.01" width="10.5" height="10.5" fill="#fff" stroke="#000" stroke-width="1.8"/>
<rect x="1172.25" y="1921.95" width="10.5" height="10.5" fill="#fff" stroke="#000" stroke-width="1.8"/>
<rect x="1172.25" y="1942.85" width="10.5" height="10.5" fill="#fff" stroke="#000" stroke-width="1.8"/>
<path d="M1211 1797.42L1216.75 1808.34L1205.25 1808.34Z" fill="#fff" stroke="#000" stroke-width="1.8" stroke-linejoin="miter"/>
<path d="M1228 1789.46L1233.75 1800.38L1222.25 1800.38Z" fill="#fff" stroke="#000" stroke-width="1.8" stroke-linejoin="miter"/>
<path d="M1219 1848.19L1224.75 1859.12L1213.25 1859.12Z" fill="#fff" stroke="#000" stroke-width="1.8" stroke-linejoin="miter"/>
<path d="M1219 1859.14L1224.75 1870.07L1213.25 1870.07Z" fill="#fff" stroke="#000" stroke-width="1.8" stroke-linejoin="miter"/>
<path d="M1227 1875.07L1232.75 1885.99L1221.25 1885.99Z" fill="#fff" stroke="#000" stroke-width="1.8" stroke-linejoin="miter"/>
<path d="M1211 1879.05L1216.75 1889.98L1205.25 1889.98Z" fill="#fff" stroke="#000" stroke-width="1.8" stroke-linejoin="miter"/>
<circle cx="1281" cy="1737.06" r="5.2" fill="#fff" stroke="#000" stroke-width="1.8"/>
<circle cx="1298" cy="1731.08" r="5.2" fill="#fff" stroke="#000" stroke-width="1.8"/>
<circle cx="1289" cy="1774.89" r="5.2" fill="#fff" stroke="#000" stroke-width="1.8"/>
<circle cx="1289" cy="1828.64" r="5.2" fill="#fff" stroke="#000" stroke-width="1.8"/>
<rect x="1316.75" y="1757.69" width="10.5" height="10.5" fill="#fff" stroke="#000" stroke-width="1.8"/>
<rect x="1333.75" y="1751.72" width="10.5" height="10.5" fill="#fff" stroke="#000" stroke-width="1.8"/>
<rect x="1333.75" y="1801.49" width="10.5" height="10.5" fill="#fff" stroke="#000" stroke-width="1.8"/>
<rect x="1316.75" y="1806.47" width="10.5" height="10.5" fill="#fff" stroke="#000" stroke-width="1.8"/>
<rect x="1325.25" y="1840.32" width="10.5" height="10.5" fill="#fff" stroke="#000" stroke-width="1.8"/>
<rect x="1325.25" y="1851.27" width="10.5" height="10.5" fill="#fff" stroke="#000" stroke-width="1.8"/>
<path d="M1372 1716.78L1377.75 1727.71L1366.25 1727.71Z" fill="#fff" stroke="#000" stroke-width="1.8" stroke-linejoin="miter"/>
<path d="M1372 1753.62L1377.75 1764.54L1366.25 1764.54Z" fill="#fff" stroke="#000" stroke-width="1.8" stroke-linejoin="miter"/>
<path d="M1372 1765.56L1377.75 1776.49L1366.25 1776.49Z" fill="#fff" stroke="#000" stroke-width="1.8" stroke-linejoin="miter"/>
<path d="M1372 1785.47L1377.75 1796.4L1366.25 1796.4Z" fill="#fff" stroke="#000" stroke-width="1.8" stroke-linejoin="miter"/>
<path d="M1364 1801.4L1369.75 1812.33L1358.25 1812.33Z" fill="#fff" stroke="#000" stroke-width="1.8" stroke-linejoin="miter"/>
<path d="M1380.5 1801.4L1386.25 1812.33L1374.75 1812.33Z" fill="#fff" stroke="#000" stroke-width="1.8" stroke-linejoin="miter"/>
<circle cx="1433.5" cy="1695.25" r="5.2" fill="#fff" stroke="#000" stroke-width="1.8"/>
<circle cx="1450" cy="1693.26" r="5.2" fill="#fff" stroke="#000" stroke-width="1.8"/>
<circle cx="1441.5" cy="1807.74" r="5.2" fill="#fff" stroke="#000" stroke-width="1.8"/>
<circle cx="1441.5" cy="1845.57" r="5.2" fill="#fff" stroke="#000" stroke-width="1.8"/>
<rect x="1469.25" y="1867.2" width="10.5" height="10.5" fill="#fff" stroke="#000" stroke-width="1.8"/>
<rect x="1486.25" y="1873.17" width="10.5" height="10.5" fill="#fff" stroke="#000" stroke-width="1.8"/>
<rect x="1477.75" y="1875.16" width="10.5" height="10.5" fill="#fff" stroke="#000" stroke-width="1.8"/>
<rect x="1477.75" y="1887.11" width="10.5" height="10.5" fill="#fff" stroke="#000" stroke-width="1.8"/>
<rect x="1481.75" y="1906.02" width="10.5" height="10.5" fill="#fff" stroke="#000" stroke-width="1.8"/>
<rect x="1473.75" y="1913.98" width="10.5" height="10.5" fill="#fff" stroke="#000" stroke-width="1.8"/>
<path d="M1524.5 1704.84L1530.25 1715.76L1518.75 1715.76Z" fill="#fff" stroke="#000" stroke-width="1.8" stroke-linejoin="miter"/>
<path d="M1524.5 1751.63L1530.25 1762.55L1518.75 1762.55Z" fill="#fff" stroke="#000" stroke-width="1.8" stroke-linejoin="miter"/>
<path d="M1524.5 1829.28L1530.25 1840.2L1518.75 1840.2Z" fill="#fff" stroke="#000" stroke-width="1.8" stroke-linejoin="miter"/>
<path d="M1524.5 1845.2L1530.25 1856.13L1518.75 1856.13Z" fill="#fff" stroke="#000" stroke-width="1.8" stroke-linejoin="miter"/>
<path d="M1524.5 1862.13L1530.25 1873.05L1518.75 1873.05Z" fill="#fff" stroke="#000" stroke-width="1.8" stroke-linejoin="miter"/>
<path d="M1524.5 1894.98L1530.25 1905.9L1518.75 1905.9Z" fill="#fff" stroke="#000" stroke-width="1.8" stroke-linejoin="miter"/>
<circle cx="1594" cy="1660.4" r="5.2" fill="#fff" stroke="#000" stroke-width="1.8"/>
<circle cx="1594" cy="1760.95" r="5.2" fill="#fff" stroke="#000" stroke-width="1.8"/>
<circle cx="1594" cy="1797.78" r="5.2" fill="#fff" stroke="#000" stroke-width="1.8"/>
<circle cx="1594" cy="1833.62" r="5.2" fill="#fff" stroke="#000" stroke-width="1.8"/>
<rect x="1630.25" y="1752.71" width="10.5" height="10.5" fill="#fff" stroke="#000" stroke-width="1.8"/>
<rect x="1622.25" y="1869.19" width="10.5" height="10.5" fill="#fff" stroke="#000" stroke-width="1.8"/>
<rect x="1638.75" y="1874.16" width="10.5" height="10.5" fill="#fff" stroke="#000" stroke-width="1.8"/>
<rect x="1630.25" y="1887.11" width="10.5" height="10.5" fill="#fff" stroke="#000" stroke-width="1.8"/>
<rect x="1638.75" y="1908.01" width="10.5" height="10.5" fill="#fff" stroke="#000" stroke-width="1.8"/>
<rect x="1622.25" y="1917.97" width="10.5" height="10.5" fill="#fff" stroke="#000" stroke-width="1.8"/>
<path d="M1677 1814.34L1682.75 1825.27L1671.25 1825.27Z" fill="#fff" stroke="#000" stroke-width="1.8" stroke-linejoin="miter"/>
<path d="M1677 1847.19L1682.75 1858.12L1671.25 1858.12Z" fill="#fff" stroke="#000" stroke-width="1.8" stroke-linejoin="miter"/>
<path d="M1677 1890L1682.75 1900.93L1671.25 1900.93Z" fill="#fff" stroke="#000" stroke-width="1.8" stroke-linejoin="miter"/>
<path d="M1669 1908.92L1674.75 1919.84L1663.25 1919.84Z" fill="#fff" stroke="#000" stroke-width="1.8" stroke-linejoin="miter"/>
<path d="M1686 1916.88L1691.75 1927.8L1680.25 1927.8Z" fill="#fff" stroke="#000" stroke-width="1.8" stroke-linejoin="miter"/>
<path d="M1669 1924.84L1674.75 1935.77L1663.25 1935.77Z" fill="#fff" stroke="#000" stroke-width="1.8" stroke-linejoin="miter"/>
<circle cx="1728" cy="1521.6" r="5.2" fill="#fff" stroke="#000" stroke-width="1.8"/>
<rect x="1722.75" y="1556.75" width="10.5" height="10.5" fill="#fff" stroke="#000" stroke-width="1.8"/>
<path d="M1728 1591.81L1733.25 1601.79L1722.75 1601.79Z" fill="#fff" stroke="#000" stroke-width="1.8" stroke-linejoin="miter"/>
<text x="1789" y="1531.6" font-size="29">LFD</text>
<text x="1789" y="1572.3" font-size="29">HFHF</text>
<text x="1789" y="1608.3" font-size="29">HFR</text>
<path d="M1133 1714V1693H1191V1714" fill="none" stroke="#000" stroke-width="2.9"/>
<text x="1163.5" y="1678.6" font-size="32" text-anchor="middle" font-weight="bold" font-family="'DejaVu Sans','Liberation Sans',sans-serif" letter-spacing="5" stroke="#000" stroke-width="0.5">****</text>
<path d="M1162 1618.6V1596.7H1219.8V1618.6" fill="none" stroke="#000" stroke-width="2.9"/>
<text x="1189.8" y="1583" font-size="32" text-anchor="middle" font-weight="bold" font-family="'DejaVu Sans','Liberation Sans',sans-serif" stroke="#000" stroke-width="0.5">*</text>
<path d="M1437 1633.4V1613H1495.2V1633.4" fill="none" stroke="#000" stroke-width="2.9"/>
<text x="1467.4" y="1598.7" font-size="32" text-anchor="middle" font-weight="bold" font-family="'DejaVu Sans','Liberation Sans',sans-serif" letter-spacing="5.8" stroke="#000" stroke-width="0.5">**</text>
<path d="M1460.7 1548.9V1527.9H1518.3V1548.9" fill="none" stroke="#000" stroke-width="2.9"/>
<text x="1488" y="1513.6" font-size="32" text-anchor="middle" font-weight="bold" font-family="'DejaVu Sans','Liberation Sans',sans-serif" stroke="#000" stroke-width="0.5">*</text>
<path d="M1591.6 1616.8V1596.4H1649.2V1616.8" fill="none" stroke="#000" stroke-width="2.9"/>
<text x="1619.4" y="1581.5" font-size="32" text-anchor="middle" font-weight="bold" font-family="'DejaVu Sans','Liberation Sans',sans-serif" stroke="#000" stroke-width="0.5">*</text>
</svg>
</body>
</html>
